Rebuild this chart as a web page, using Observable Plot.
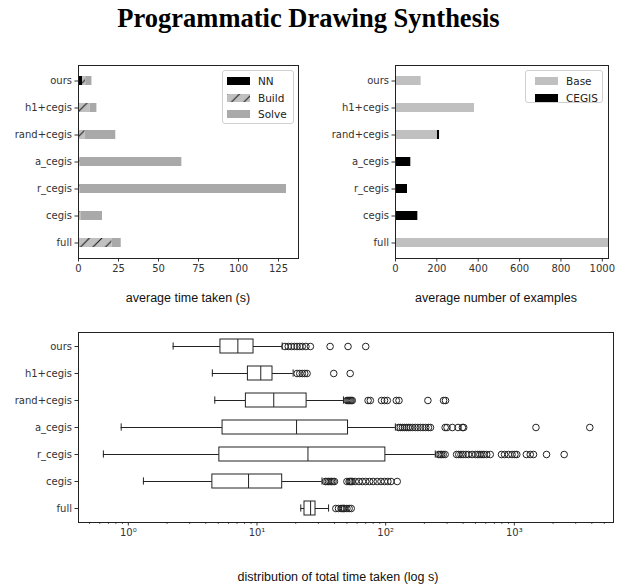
<!DOCTYPE html>
<html>
<head>
<meta charset="utf-8">
<script src="https://cdn.jsdelivr.net/npm/d3@7"></script>
<script src="https://cdn.jsdelivr.net/npm/@observablehq/plot@0.6"></script>
<style>
  html, body { margin: 0; padding: 0; background: white; }
  #wrap { position: relative; width: 617px; height: 586px; background: white; overflow: hidden; }
  #title { position: absolute; left: 0; top: 5px; width: 617px; text-align: center;
           font-family: "Liberation Serif", "Times New Roman", serif; font-weight: bold;
           font-size: 26.5px; line-height: 26px; color: #000; }
  .panel { position: absolute; }
  .panel text { font-family: "DejaVu Sans", sans-serif; font-size: 10px; }
  .axlabel { position: absolute; font-family: "Liberation Sans", Arial, sans-serif; font-size: 12.5px;
             color: #111; white-space: nowrap; transform: translate(-50%, -50%); }
  .legend { position: absolute; background: white; border: 1px solid #d0d0d0; border-radius: 3px;
            font-family: "DejaVu Sans", sans-serif; font-size: 10.5px; color: #222; }
  .legend .row { position: absolute; left: 0; height: 12px; line-height: 12px; }
  .legend svg { position: absolute; top: 2px; }
  .legend span { position: absolute; top: 0; white-space: nowrap; }
</style>
</head>
<body>
<svg width="0" height="0" style="position:absolute">
  <defs>
    <pattern id="hatch" patternUnits="userSpaceOnUse" width="12.5" height="12.5">
      <rect width="12.5" height="12.5" fill="#c0c0c0"></rect>
      <path d="M0,12.5L12.5,0M-3,3L3,-3M9.5,15.5L15.5,9.5" stroke="#111" stroke-width="1"></path>
    </pattern>
  </defs>
</svg>
<div id="wrap">
  <div id="title">Programmatic Drawing Synthesis</div>
</div>
<script>
// ---------- data ----------
const cats = ["ours", "h1+cegis", "rand+cegis", "a_cegis", "r_cegis", "cegis", "full"];

// top-left: average time taken (s), stacked NN / Build / Solve
const timeStages = ["NN", "Build", "Solve"];
const nnTime    = [2.5, 0, 0, 0, 0, 0, 0];
const buildTime = [2, 7.3, 4.2, 1, 1, 1.5, 21];
const solveTime = [3.9, 4.2, 19.1, 63.6, 129, 13.5, 5.7];
const timeTicks = [0, 25, 50, 75, 100, 125];

// top-right: average number of examples, stacked Base / CEGIS
const exStages = ["Base", "CEGIS"];
const baseEx  = [124, 382, 203, 0, 0, 0, 1030];
const cegisEx = [0, 0, 10, 74, 58, 108, 0];
const exTicks = [0, 200, 400, 600, 800, 1000];

// bottom: distribution of total time taken (log s)
const whiskerLo = [2.23, 4.5, 4.7, 0.88, 0.64, 1.31, 21.9];
const q1s       = [5.2, 8.5, 8.2, 5.4, 5.1, 4.5, 23.4];
const medians   = [7.1, 10.7, 13.5, 20.3, 24.9, 8.6, 26.1];
const q3s       = [9.4, 13.2, 24.3, 51, 99.5, 15.7, 28.5];
const whiskerHi = [15.7, 19.1, 47, 119, 243, 32, 36];
const outOurs  = [16.5, 17.5, 18.5, 19.5, 20.5, 21.5, 22.5, 24, 26, 37, 51, 70];
const outH1    = [20.5, 21.5, 22.5, 23.5, 24.5, 39.5, 53];
const outRand  = [50, 51, 52, 53, 54, 55, 73, 76, 93, 98, 103, 121, 127, 213, 282, 292];
const outA     = [126, 130, 135, 140, 145, 150, 155, 162, 170, 178, 186, 195, 205, 215, 223, 290, 300, 330, 365, 395, 404, 1473, 3860];
const outR     = [258, 265, 272, 280, 290, 356, 370, 385, 400, 420, 440, 470, 500, 520, 540, 560, 580, 610, 650, 795, 840, 900, 960, 1010, 1045, 1240, 1330, 1410, 1780, 2440];
const outCegis = [34, 35, 36, 37, 38, 39, 40, 50, 52, 53, 54, 55, 58, 62, 66, 70, 75, 80, 86, 92, 98, 104, 110, 123];
const outFull  = [41, 43, 45, 46, 47, 48, 50, 52, 54];
const logMajorTicks = [1, 10, 100, 1000];
const logMajorLabels = ["10\u2070", "10\u00B9", "10\u00B2", "10\u00B3"];
const logMinorTicks = [0.5, 0.6, 0.7, 0.8, 0.9, 2, 3, 4, 5, 6, 7, 8, 9, 20, 30, 40, 50, 60, 70, 80, 90,
                       200, 300, 400, 500, 600, 700, 800, 900, 2000, 3000, 4000, 5000];

// ---------- tables ----------
const timeRows = cats.flatMap((c, i) => [
  {cat: c, stage: "NN", value: nnTime[i]},
  {cat: c, stage: "Build", value: buildTime[i]},
  {cat: c, stage: "Solve", value: solveTime[i]}
]);
const exRows = cats.flatMap((c, i) => [
  {cat: c, stage: "Base", value: baseEx[i]},
  {cat: c, stage: "CEGIS", value: cegisEx[i]}
]);
const boxRows = cats.map((c, i) => ({cat: c, lo: whiskerLo[i], q1: q1s[i], med: medians[i], q3: q3s[i], hi: whiskerHi[i]}));
const outLists = [outOurs, outH1, outRand, outA, outR, outCegis, outFull];
const outRows = cats.flatMap((c, i) => outLists[i].map(v => ({cat: c, value: v})));

const ink = "#222";
const tickStyle = {background: "transparent", overflow: "visible", fontFamily: "'DejaVu Sans', sans-serif", fontSize: "10px", color: "#333"};

const wrap = document.getElementById("wrap");
function place(node, left, top) {
  node.classList.add("panel");
  node.style.left = left + "px";
  node.style.top = top + "px";
  wrap.appendChild(node);
}
function axisLabel(text, cx, cy) {
  const d = document.createElement("div");
  d.className = "axlabel";
  d.textContent = text;
  d.style.left = cx + "px"; d.style.top = cy + "px";
  wrap.appendChild(d);
}

// ---------- top-left ----------
const p1 = Plot.plot({
  width: 310, height: 250,
  marginLeft: 78, marginRight: 12, marginTop: 25, marginBottom: 32,
  style: tickStyle,
  x: {domain: [0, 137.5], ticks: timeTicks, tickFormat: d => String(d), tickSize: 3.5, tickPadding: 3, label: null},
  y: {domain: cats, paddingInner: 0.65, paddingOuter: 0.36, tickSize: 3.5, tickPadding: 3, label: null},
  color: {domain: timeStages, range: ["black", "url(#hatch)", "#a9a9a9"]},
  marks: [
    Plot.barX(timeRows, Plot.stackX({x: "value", y: "cat", fill: "stage"})),
    Plot.frame({stroke: ink})
  ]
});
place(p1, 0, 40);
axisLabel("average time taken (s)", 188, 298);

// ---------- top-right ----------
const p2 = Plot.plot({
  width: 307, height: 250,
  marginLeft: 85, marginRight: 9, marginTop: 25, marginBottom: 32,
  style: tickStyle,
  x: {domain: [0, 1030], ticks: exTicks, tickFormat: d => String(d), tickSize: 3.5, tickPadding: 3, label: null},
  y: {domain: cats, paddingInner: 0.65, paddingOuter: 0.36, tickSize: 3.5, tickPadding: 3, label: null},
  color: {domain: exStages, range: ["#c0c0c0", "black"]},
  marks: [
    Plot.barX(exRows, Plot.stackX({x: "value", y: "cat", fill: "stage"})),
    Plot.frame({stroke: ink})
  ]
});
place(p2, 310, 40);
axisLabel("average number of examples", 496, 298);

// ---------- bottom ----------
const p3 = Plot.plot({
  width: 617, height: 240,
  marginLeft: 78, marginRight: 4, marginTop: 22, marginBottom: 28,
  style: tickStyle,
  x: {type: "log", domain: [0.41, 5900], ticks: logMajorTicks,
      tickFormat: d => logMajorLabels[logMajorTicks.indexOf(d)], tickSize: 3.5, tickPadding: 3, label: null},
  y: {domain: cats, paddingInner: 0.5, paddingOuter: 0.25, tickSize: 3.5, tickPadding: 3, label: null},
  marks: [
    Plot.ruleX(logMinorTicks, {x: d => d, insetTop: 190, insetBottom: -2, stroke: "#333", strokeWidth: 0.8}),
    Plot.ruleY(boxRows, {y: "cat", x1: "lo", x2: "q1", stroke: ink}),
    Plot.ruleY(boxRows, {y: "cat", x1: "q3", x2: "hi", stroke: ink}),
    Plot.tickX(boxRows, {x: "lo", y: "cat", insetTop: 3.4, insetBottom: 3.4, stroke: ink}),
    Plot.tickX(boxRows, {x: "hi", y: "cat", insetTop: 3.4, insetBottom: 3.4, stroke: ink}),
    Plot.barX(boxRows, {x1: "q1", x2: "q3", y: "cat", fill: "white", stroke: ink}),
    Plot.tickX(boxRows, {x: "med", y: "cat", stroke: ink}),
    Plot.dot(outRows, {x: "value", y: "cat", r: 3.3, stroke: ink, fill: "none", strokeWidth: 1}),
    Plot.frame({stroke: ink})
  ]
});
place(p3, 0, 310);
axisLabel("distribution of total time taken (log s)", 338, 577);

// ---------- legends ----------
function legend(left, top, w, h, swatchLeft, textLeft, items) {
  const div = document.createElement("div");
  div.className = "legend";
  div.style.left = left + "px"; div.style.top = top + "px";
  div.style.width = w + "px"; div.style.height = h + "px";
  items.forEach((it, i) => {
    const row = document.createElement("div");
    row.className = "row";
    row.style.top = (4 + i * 16.5) + "px";
    row.innerHTML = `<svg width="23" height="8" style="left:${swatchLeft}px"><rect width="23" height="8" fill="${it.fill}"></rect></svg><span style="left:${textLeft}px">${it.label}</span>`;
    div.appendChild(row);
  });
  wrap.appendChild(div);
}
legend(222, 70, 70, 52, 4, 35, [
  {label: "NN", fill: "black"},
  {label: "Build", fill: "url(#hatch)"},
  {label: "Solve", fill: "#a9a9a9"}
]);
legend(525, 70, 76, 31, 9, 40, [
  {label: "Base", fill: "#c0c0c0"},
  {label: "CEGIS", fill: "black"}
]);
</script>
</body>
</html>
